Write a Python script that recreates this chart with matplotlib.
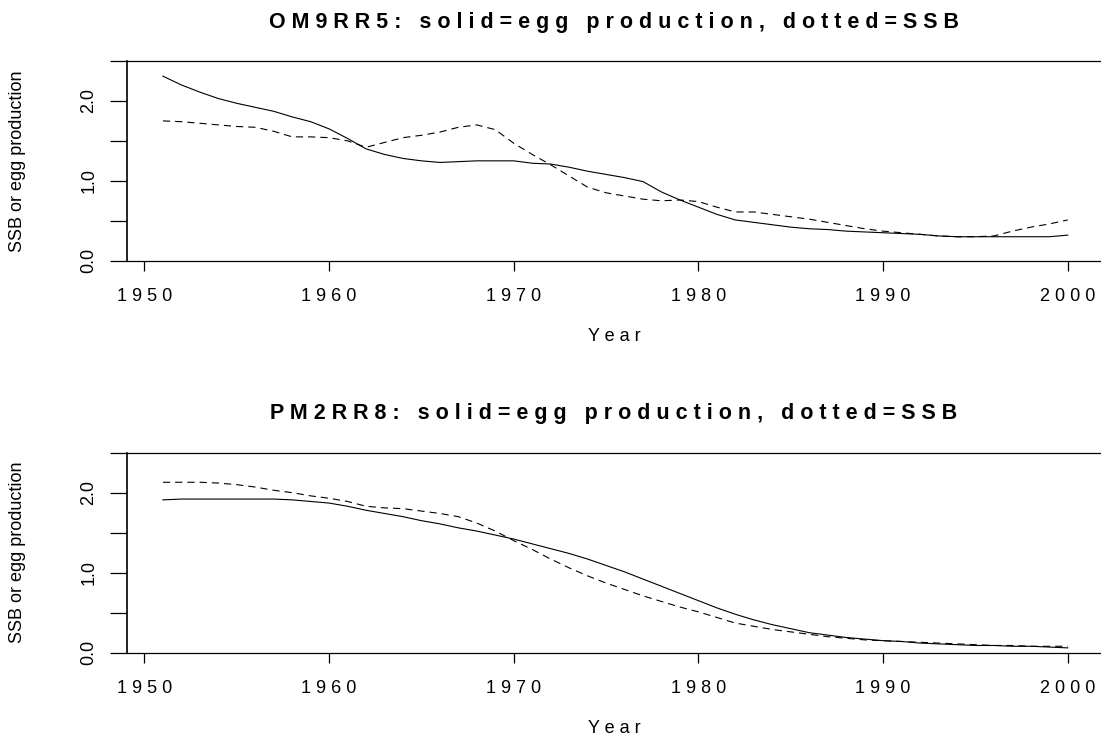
import matplotlib
matplotlib.use("Agg")
import matplotlib.pyplot as plt

plt.rcParams["font.family"] = ["Liberation Sans", "DejaVu Sans"]

years = list(range(1951, 2001))

# OM9RR5
egg_om = [2.31, 2.20, 2.11, 2.03, 1.97, 1.92, 1.87, 1.80, 1.74, 1.65,
          1.53, 1.40, 1.33, 1.28, 1.25, 1.23, 1.24, 1.25, 1.25, 1.25,
          1.22, 1.21, 1.17, 1.12, 1.08, 1.04, 0.99, 0.86, 0.76, 0.67,
          0.58, 0.51, 0.48, 0.45, 0.42, 0.40, 0.39, 0.37, 0.36, 0.35,
          0.34, 0.33, 0.31, 0.30, 0.30, 0.30, 0.30, 0.30, 0.30, 0.32]
ssb_om = [1.75, 1.74, 1.72, 1.70, 1.68, 1.67, 1.62, 1.55, 1.55, 1.54,
          1.50, 1.42, 1.48, 1.54, 1.57, 1.61, 1.67, 1.70, 1.64, 1.47,
          1.33, 1.20, 1.06, 0.92, 0.85, 0.81, 0.77, 0.75, 0.76, 0.74,
          0.67, 0.61, 0.61, 0.58, 0.55, 0.52, 0.48, 0.44, 0.40, 0.37,
          0.35, 0.33, 0.31, 0.30, 0.30, 0.31, 0.37, 0.42, 0.46, 0.51]

# PM2RR8
egg_pm = [1.91, 1.92, 1.92, 1.92, 1.92, 1.92, 1.92, 1.91, 1.89, 1.87,
          1.83, 1.78, 1.74, 1.70, 1.65, 1.61, 1.56, 1.52, 1.47, 1.42,
          1.36, 1.30, 1.24, 1.17, 1.09, 1.01, 0.92, 0.83, 0.74, 0.65,
          0.56, 0.48, 0.41, 0.35, 0.30, 0.25, 0.22, 0.19, 0.17, 0.15,
          0.14, 0.12, 0.11, 0.10, 0.09, 0.09, 0.08, 0.08, 0.07, 0.06]
ssb_pm = [2.13, 2.13, 2.13, 2.12, 2.10, 2.07, 2.03, 2.00, 1.96, 1.93,
          1.89, 1.83, 1.81, 1.80, 1.77, 1.74, 1.70, 1.62, 1.52, 1.40,
          1.29, 1.17, 1.06, 0.96, 0.87, 0.79, 0.71, 0.64, 0.57, 0.51,
          0.44, 0.37, 0.33, 0.29, 0.26, 0.23, 0.20, 0.18, 0.16, 0.15,
          0.14, 0.13, 0.12, 0.11, 0.10, 0.09, 0.09, 0.08, 0.08, 0.08]

panels = [("OM9RR5", egg_om, ssb_om), ("PM2RR8", egg_pm, ssb_pm)]
xticks = [1950, 1960, 1970, 1980, 1990, 2000]
yticks = [0.0, 0.5, 1.0, 1.5, 2.0, 2.5]


def spaced(s):
    return " ".join(s)


fig = plt.figure(figsize=(11.01, 7.40), dpi=100)
rects = [[0.1151, 0.6477, 0.8849, 0.2699], [0.1151, 0.1180, 0.8849, 0.2703]]

for rect, (name, egg, ssb) in zip(rects, panels):
    ax = fig.add_axes(rect)
    ax.plot(years, egg, color="black", lw=0.8)
    ax.plot(years, ssb, color="black", lw=0.8, linestyle=(0, (6.5, 4.5)))
    ax.set_xlim(1949.04, 2001.8)
    ax.set_ylim(0, 2.5)
    ax.spines["right"].set_visible(False)
    for sp in ["left", "top", "bottom"]:
        ax.spines[sp].set_linewidth(0.9)
    ax.spines["left"].set_linewidth(1.2)

    ax.set_xticks(xticks)
    ax.set_xticklabels([spaced(str(t)) for t in xticks], fontsize=13)
    ax.set_yticks(yticks)
    ax.set_yticklabels(["0.0", "", "1.0", "", "2.0", ""], fontsize=13,
                       rotation=90, va="center")
    ax.tick_params(axis="x", direction="out", length=7.5, width=0.9, pad=12.5)
    ax.tick_params(axis="y", direction="out", length=12, width=0.9, pad=9)

    ax.set_xlabel(spaced("Year"), fontsize=13, labelpad=16)
    ax.set_title(spaced(name + ": solid=egg production, dotted=SSB"),
                 fontsize=15.5, fontweight="bold", pad=24)
    y_mid = rect[1] + rect[3] / 2
    fig.text(18 / 1101, y_mid, "SSB or egg production", rotation=90,
             ha="center", va="center", fontsize=13)

fig.savefig("out.png", dpi=100)
